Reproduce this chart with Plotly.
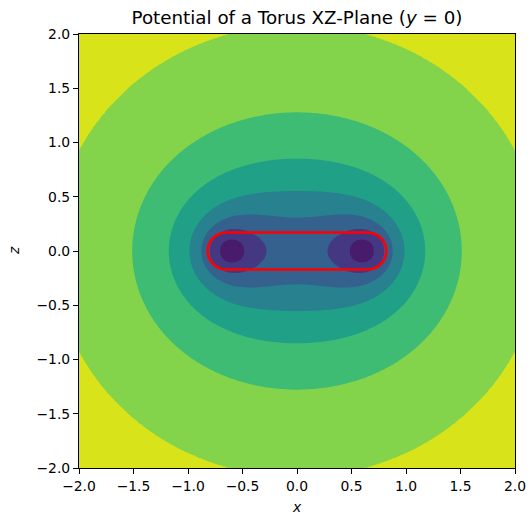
import numpy as np
import plotly.graph_objects as go

# ---- data ----
TORUS_R = 0.65          # major radius of torus (from red outline)
TORUS_r = 0.17          # minor radius of torus

# fill colours of the bands, from lowest potential (dark) to highest (yellow)
band_colors = ["#481b6d", "#453882", "#34618d", "#27818e",
               "#20a087", "#3ebc73", "#84d44b", "#d9e31a"]

boundary_x = [[0.48, 0.71], [0.28], [0.875, 0.0], [0.98, 0.0],
              [1.17, 0.0], [1.51, 0.0], [0.59, 2.0]]
boundary_z = [[0.0, 0.0], [0.0], [0.0, 0.316], [0.0, 0.565],
              [0.0, 0.86], [0.0, 1.28], [2.0, 0.93]]

tick_vals = [-2.0, -1.5, -1.0, -0.5, 0.0, 0.5, 1.0, 1.5, 2.0]
tick_text = ["\u22122.0", "\u22121.5", "\u22121.0", "\u22120.5", "0.0",
             "0.5", "1.0", "1.5", "2.0"]


# ---- potential of a uniform solid torus (sum of coaxial rings) ----
def agm(a, b):
    for _ in range(30):
        a, b = 0.5 * (a + b), np.sqrt(a * b)
    return a


def potential(rho, z):
    rho = np.asarray(rho, dtype=float)
    z = np.asarray(z, dtype=float)
    n = 15
    s = np.linspace(-TORUS_r, TORUS_r, n)
    S1, S2 = np.meshgrid(s, s)
    mask = S1 ** 2 + S2 ** 2 <= TORUS_r ** 2
    src_rho = TORUS_R + S1[mask]
    src_z = S2[mask]
    w = src_rho / src_rho.sum()
    eps2 = 0.5 * (s[1] - s[0]) ** 2
    P = np.zeros(np.broadcast(rho, z).shape)
    for a, h, wi in zip(src_rho, src_z, w):
        q = (rho + a) ** 2 + (z - h) ** 2 + eps2
        m = 4.0 * rho * a / q
        kp = np.sqrt(np.clip(1.0 - m, 1e-14, None))
        P -= wi / (np.sqrt(q) * agm(np.ones_like(kp), kp))
    return P


xs = np.linspace(-2, 2, 321)
zs = np.linspace(-2, 2, 321)
X, Z = np.meshgrid(xs, zs)
PHI = potential(np.abs(X), Z)

levels = []
for bx, bz in zip(boundary_x, boundary_z):
    levels.append(float(np.mean(potential(np.abs(np.array(bx)), np.array(bz)))))
levels = np.sort(np.array(levels))

knots = np.concatenate([[PHI.min() - 1.0], levels, [PHI.max() + 1.0]])
F = np.interp(PHI, knots, np.arange(len(knots)))

nlev = len(levels)
colorscale = [[j / nlev, c] for j, c in enumerate(band_colors)]

fig = go.Figure()
fig.add_trace(go.Contour(
    x=xs, y=zs, z=F,
    autocontour=False,
    contours=dict(start=1, end=nlev, size=1, coloring="fill", showlines=False),
    line=dict(width=0, smoothing=0),
    colorscale=colorscale,
    showscale=False,
    hoverinfo="skip",
))

# red torus silhouette (stadium)
t = np.linspace(-np.pi / 2, np.pi / 2, 80)
rx = np.concatenate([TORUS_R + TORUS_r * np.cos(t),
                     -TORUS_R - TORUS_r * np.cos(t[::-1])])
rz = np.concatenate([TORUS_r * np.sin(t), TORUS_r * np.sin(t[::-1])])
rx = np.append(rx, rx[0])
rz = np.append(rz, rz[0])
fig.add_trace(go.Scatter(x=rx, y=rz, mode="lines",
                         line=dict(color="#ff0000", width=2.6),
                         hoverinfo="skip", showlegend=False))

font = dict(family="DejaVu Sans", size=13.9, color="black")
axis_common = dict(range=[-2, 2], tickvals=tick_vals, ticktext=tick_text,
                   ticks="outside", ticklen=5, tickwidth=1.1, tickcolor="black",
                   showline=True, linecolor="black", linewidth=1.1, mirror=True,
                   showgrid=False, zeroline=False, tickfont=font, automargin=False)

fig.update_layout(
    width=530, height=515,
    margin=dict(l=79, r=15, t=34, b=47),
    paper_bgcolor="white", plot_bgcolor="white",
    showlegend=False,
    title=dict(text="Potential of a Torus XZ-Plane (<i>y</i> = 0)",
               font=dict(family="DejaVu Sans", size=18.3, color="black"),
               xref="paper", x=0.5, xanchor="center",
               yref="container", y=1 - 18 / 515, yanchor="middle"),
    xaxis=axis_common,
    yaxis=axis_common,
    annotations=[
        dict(text="<i>x</i>", xref="paper", yref="paper", x=0.5, y=-(507 - 468) / 434,
             showarrow=False, font=font, xanchor="center", yanchor="middle"),
        dict(text="<i>z</i>", xref="paper", yref="paper", x=(14 - 79) / 436, y=0.5,
             showarrow=False, font=font, textangle=-90, xanchor="center", yanchor="middle"),
    ],
)

fig.write_html("out.html")
